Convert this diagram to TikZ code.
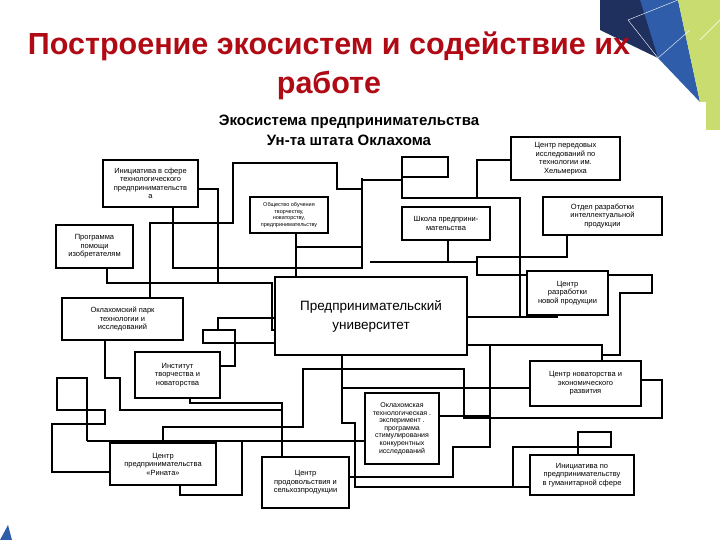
\documentclass[tikz,border=0pt]{standalone}
\usepackage{fontspec}
\setmainfont{Liberation Sans}
\definecolor{navy}{HTML}{1F2F5E}
\definecolor{midblue}{HTML}{2F5DAA}
\definecolor{lime}{HTML}{C9DC70}
\definecolor{titlered}{HTML}{B00A14}
\begin{document}
\begin{tikzpicture}[x=1pt,y=-1pt,
  bx/.style={draw,line width=2pt,fill=white,align=center,font=\fontsize{7.5}{8.5}\selectfont,inner sep=1pt},
  ln/.style={line width=1.8pt},
  sm/.style={bx,font=\fontsize{5.5}{6.5}\selectfont}]
\useasboundingbox (0,0) rectangle (720,540);
\fill[white] (0,0) rectangle (720,540);
% decoration
\fill[midblue] (608,0) -- (678,0) -- (700,102) -- (658,58) -- cycle;
\fill[navy] (600,0) -- (640,0) -- (658,58) -- (600,30) -- cycle;
\fill[lime] (678,0) -- (720,0) -- (720,130) -- (706,130) -- (706,102) -- (700,102) -- cycle;
\draw[white,line width=0.4pt] (628,20) -- (678,0) (628,20) -- (658,58) (658,58) -- (690,30) (700,40) -- (720,20);
\fill[midblue] (0,540) -- (8,525) -- (12,540) -- cycle;
% titles
\node[font=\bfseries\fontsize{30.5}{39}\selectfont,text=titlered,align=center] (t) at (329,66) {Построение экосистем и содействие их\\работе};
\node[font=\bfseries\fontsize{15}{20}\selectfont,align=center] (st) at (349,130) {Экосистема предпринимательства\\Ун-та штата Оклахома};
% connectors (drawn beneath boxes)
\draw[line width=2pt] (402,157) rectangle (448,177);
\draw[ln] (198,189) -- (218,189) -- (218,283);
\draw[ln] (107,268) -- (107,283) -- (272,283) -- (272,330) -- (275,330);
\draw[ln] (173,207) -- (173,268) -- (362,268) -- (362,178);
\draw[ln] (150,298) -- (150,223) -- (233,223) -- (233,163) -- (337,163) -- (337,189) -- (362,189);
\draw[ln] (296,233) -- (296,283);
\draw[ln] (296,247) -- (362,247);
\draw[ln] (362,180) -- (402,180);
\draw[ln] (402,177) -- (402,198) -- (520,198) -- (520,317);
\draw[ln] (477,198) -- (477,160) -- (511,160);
\draw[ln] (448,240) -- (448,262) -- (370,262);
\draw[ln] (448,262) -- (477,262) -- (477,275) -- (527,275);
\draw[ln] (567,235) -- (567,257) -- (477,257) -- (477,262);
\draw[ln] (557,315) -- (557,317) -- (467,317);
\draw[ln] (608,275) -- (652,275) -- (652,293) -- (620,293) -- (620,355) -- (602,355);
\draw[ln] (602,361) -- (602,345) -- (467,345);
\draw[ln] (490,345) -- (490,447) -- (453,447) -- (453,477) -- (349,477);
\draw[ln] (439,416) -- (490,416);
\draw[ln] (641,380) -- (662,380) -- (662,418) -- (464,418) -- (464,369) -- (303,369) -- (303,427) -- (163,427) -- (163,443);
\draw[ln] (342,355) -- (342,423) -- (355,423) -- (355,487) -- (530,487);
\draw[ln] (342,388) -- (530,388);
\draw[ln] (578,455) -- (578,432) -- (611,432) -- (611,447) -- (513,447) -- (513,487);
\draw[ln] (87,441) -- (365,441);
\draw[ln] (87,441) -- (87,378) -- (57,378) -- (57,410) -- (105,410) -- (105,424) -- (52,424) -- (52,472) -- (110,472);
\draw[ln] (190,398) -- (190,403) -- (282,403) -- (282,457);
\draw[ln] (105,340) -- (105,378) -- (120,378) -- (120,410) -- (282,410);
\draw[ln] (180,485) -- (180,495) -- (242,495) -- (242,441);
\draw[ln] (220,366) -- (235,366) -- (235,330) -- (203,330) -- (203,343) -- (275,343);
\draw[ln] (218,330) -- (218,318) -- (275,318);
% boxes
\node[bx,minimum width=95pt,minimum height=47pt] (A) at (150.5,183.5) {Инициатива в сфере\\технологического\\предпринимательств\\а};
\node[bx,minimum width=77pt,minimum height=43pt] (B) at (94.5,246.5) {Программа\\помощи\\изобретателям};
\node[sm,minimum width=78pt,minimum height=36pt] (C) at (289,215) {Общество обучения\\творчеству,\\новаторству,\\предпринимательству};
\node[bx,minimum width=88pt,minimum height=33pt] (D) at (446,223.5) {Школа предприни-\\мательства};
\node[bx,minimum width=109pt,minimum height=43pt] (E) at (565.5,158.5) {Центр передовых\\исследований по\\технологии им.\\Хельмериха};
\node[bx,minimum width=119pt,minimum height=38pt] (F) at (602.5,216) {Отдел разработки\\интеллектуальной\\продукции};
\node[bx,minimum width=81pt,minimum height=44pt] (G) at (567.5,293) {Центр\\разработки\\новой продукции};
\node[bx,minimum width=121pt,minimum height=42pt] (H) at (122.5,319) {Оклахомский парк\\технологии и\\исследований};
\node[bx,minimum width=192pt,minimum height=78pt,font=\fontsize{13.5}{19}\selectfont] (U) at (371,316) {Предпринимательский\\университет};
\node[bx,minimum width=85pt,minimum height=46pt] (I) at (177.5,375) {Институт\\творчества и\\новаторства};
\node[bx,minimum width=111pt,minimum height=45pt] (J) at (585.5,383.5) {Центр новаторства и\\экономического\\развития};
\node[bx,minimum width=74pt,minimum height=71pt,font=\fontsize{7}{7.6}\selectfont] (K) at (402,428.5) {Оклахомская\\технологическая .\\эксперимент .\\программа\\стимулирования\\конкурентных\\исследований};
\node[bx,minimum width=106pt,minimum height=42pt] (L) at (163,464) {Центр\\предпринимательства\\«Рината»};
\node[bx,minimum width=87pt,minimum height=51pt] (M) at (305.5,482.5) {Центр\\продовольствия и\\сельхозпродукции};
\node[bx,minimum width=104pt,minimum height=40pt] (N) at (582,475) {Инициатива по\\предпринимательству\\в гуманитарной сфере};
\end{tikzpicture}
\end{document}
